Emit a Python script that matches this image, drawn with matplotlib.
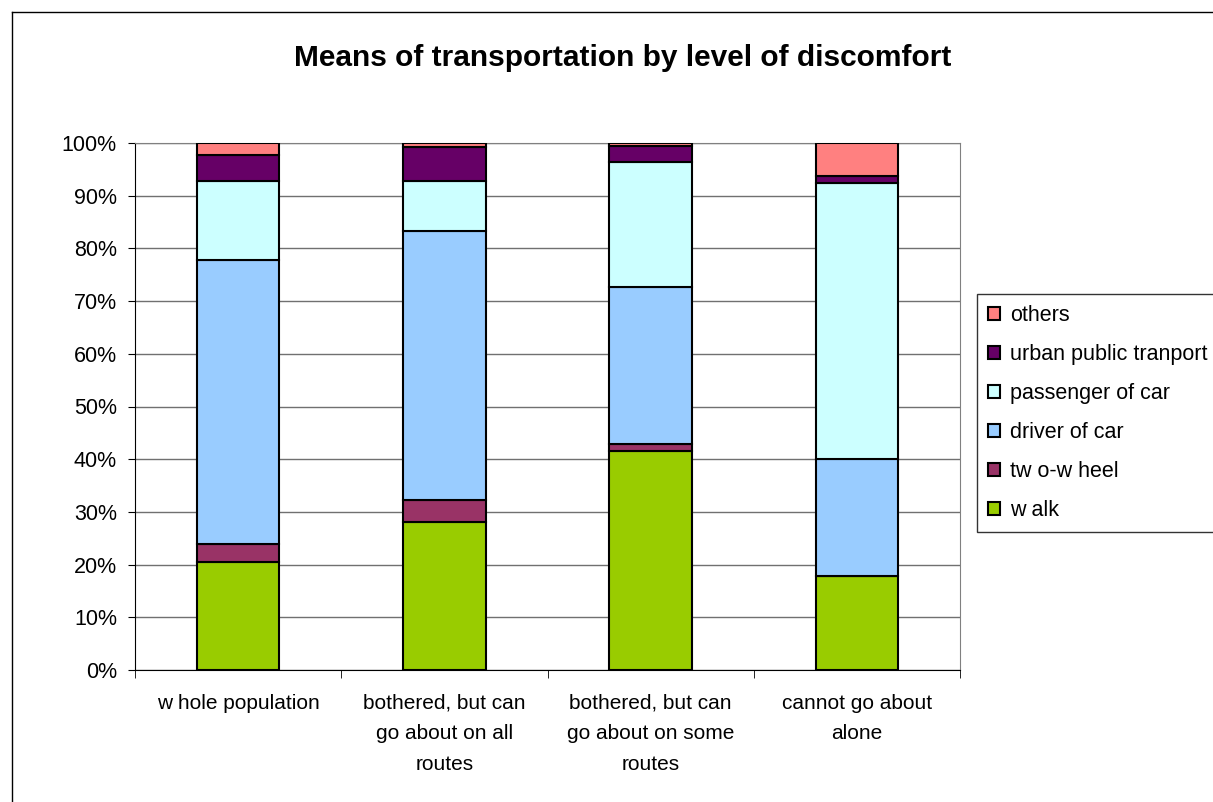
import matplotlib
matplotlib.use("Agg")
import numpy as np
import matplotlib.pyplot as plt
from matplotlib.lines import Line2D
from matplotlib.ticker import PercentFormatter

plt.rcParams['font.family'] = ['Liberation Sans', 'DejaVu Sans']

# ---- data (percent of each group) ----
categories = ["w hole population",
              "bothered, but can\ngo about on all\nroutes",
              "bothered, but can\ngo about on some\nroutes",
              "cannot go about\nalone"]
walk = [20.4, 28.0, 41.6, 17.8]
two_wheel = [3.6, 4.3, 1.2, 0.0]
driver = [53.8, 51.0, 29.9, 22.2]
passenger = [15.0, 9.5, 23.6, 52.5]
urban_pt = [4.9, 6.4, 3.1, 1.3]
others = [2.3, 0.8, 0.6, 6.2]

series = [("w alk", walk, "#99CC00"),
          ("tw o-w heel", two_wheel, "#993366"),
          ("driver of car", driver, "#99CCFF"),
          ("passenger of car", passenger, "#CCFFFF"),
          ("urban public tranport", urban_pt, "#660066"),
          ("others", others, "#FF8080")]

W, H = 1213, 802
fig = plt.figure(figsize=(W / 100, H / 100), dpi=100)
ax = fig.add_axes([135 / W, 1 - 670 / H, (960 - 135) / W, (670 - 143) / H])

x = np.arange(len(categories))
bottom = np.zeros(len(categories))
handles = []
for lbl, vals, c in series:
    b = ax.bar(x, vals, width=0.4, bottom=bottom, color=c, edgecolor="black",
               linewidth=1.5, label=lbl, zorder=3)
    bottom += np.array(vals)
    handles.append(b)

ax.set_xlim(-0.5, len(categories) - 0.5)
ax.set_ylim(0, 100)
ax.set_yticks(np.arange(0, 101, 10))
ax.yaxis.set_major_formatter(PercentFormatter(decimals=0))
ax.grid(axis="y", color="#707070", lw=1, zorder=0)
ax.set_xticks(x, categories, linespacing=1.77)
ax.set_xticks(np.arange(-0.5, len(categories), 1.0), minor=True)
ax.tick_params(axis="x", which="major", length=0, pad=17, labelsize=15)
ax.tick_params(axis="x", which="minor", length=6, direction="out", color="black")
ax.tick_params(axis="y", length=5, direction="out", labelsize=15.5, pad=8)
for s in ("top", "right"):
    ax.spines[s].set_color("#808080")
for s in ("left", "bottom"):
    ax.spines[s].set_color("black")

fig.text(623 / W, 1 - 58 / H, "Means of transportation by level of discomfort",
         ha="center", va="center", fontsize=21.5, fontweight="bold")

# outer chart border
fig.add_artist(Line2D([12 / W, 12 / W], [0, 1 - 12 / H], color="black", lw=1))
fig.add_artist(Line2D([12 / W, 1], [1 - 12 / H, 1 - 12 / H], color="black", lw=1))

leg = fig.legend(handles[::-1], [s[0] for s in series][::-1],
                 loc="upper left", bbox_to_anchor=(977 / W, 1 - 294 / H),
                 frameon=True, fancybox=False, edgecolor="black", fontsize=15.5,
                 handlelength=0.55, handleheight=0.55, handletextpad=0.5,
                 labelspacing=0.84, borderpad=0.5, borderaxespad=0)
leg.get_frame().set_linewidth(1)

fig.savefig("out.png", dpi=100)
